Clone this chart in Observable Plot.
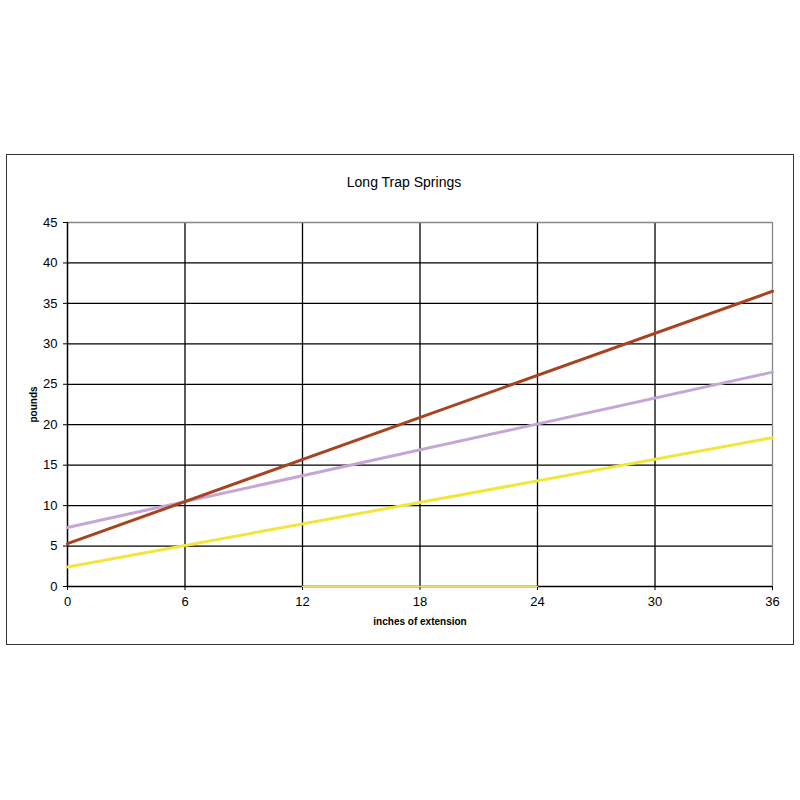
<!DOCTYPE html>
<html><head><meta charset="utf-8">
<script src="https://cdn.jsdelivr.net/npm/d3@7"></script>
<script src="https://cdn.jsdelivr.net/npm/@observablehq/plot@0.6"></script>
<style>
body{margin:0;background:#fff;font-family:"Liberation Sans",Arial,sans-serif}
#wrap{position:relative;width:800px;height:800px;overflow:hidden}
#border{position:absolute;left:6px;top:154px;width:788px;height:491px;border:1.5px solid #333;box-sizing:border-box;pointer-events:none}
#title{position:absolute;top:174px;left:8px;width:792px;text-align:center;font-size:14px;color:#000}
#chart{position:absolute;left:0;top:0}
</style></head>
<body>
<div id="wrap"><div id="chart"></div><div id="border"></div><div id="title">Long Trap Springs</div></div>
<script>
const inches = [0, 36];
const brownPounds = [5.3, 36.5];
const lavenderPounds = [7.3, 26.5];
const yellowPounds = [2.4, 18.4];
const zeroInches = [12, 24];
const zeroPounds = [0, 0];
const xTicks = [0, 6, 12, 18, 24, 30, 36];
const yTicks = [0, 5, 10, 15, 20, 25, 30, 35, 40, 45];

const mk = (xs, ys) => xs.map((x, i) => ({x, y: ys[i]}));

const chart = Plot.plot({
  width: 800, height: 800,
  marginLeft: 67, marginRight: 28, marginTop: 222, marginBottom: 214,
  style: {fontFamily: '"Liberation Sans", Arial, sans-serif', fontSize: "13px", background: "transparent", color: "#000"},
  x: {domain: [0, 36], ticks: xTicks, label: null},
  y: {domain: [0, 45], ticks: yTicks, label: null},
  marks: [
    Plot.ruleY(yTicks.filter(v => v > 0 && v < 45), {stroke: "#000", strokeWidth: 1.3}),
    Plot.ruleX(xTicks.filter(v => v > 0 && v < 36), {stroke: "#000", strokeWidth: 1.3}),
    Plot.ruleY([45], {stroke: "#888", strokeWidth: 1.3}),
    Plot.ruleX([36], {stroke: "#888", strokeWidth: 1.3}),
    Plot.ruleY([0], {stroke: "#000", strokeWidth: 1.5}),
    Plot.ruleX([0], {stroke: "#000", strokeWidth: 1.5}),
    Plot.axisX({ticks: xTicks, tickSize: 4, tickPadding: 6, label: "inches of extension", labelAnchor: "center", labelArrow: "none", labelOffset: 38, fontSize: 13, stroke: "#000"}),
    Plot.axisY({ticks: yTicks, tickSize: 4, tickPadding: 6, label: "pounds", labelAnchor: "center", labelArrow: "none", labelOffset: 38, fontSize: 13, stroke: "#000"}),
    Plot.line(mk(zeroInches, zeroPounds), {x: "x", y: "y", stroke: "#E8E070", strokeWidth: 1.5}),
    Plot.line(mk(inches, yellowPounds), {x: "x", y: "y", stroke: "#F2E63C", strokeWidth: 3}),
    Plot.line(mk(inches, lavenderPounds), {x: "x", y: "y", stroke: "#C6A6D6", strokeWidth: 3}),
    Plot.line(mk(inches, brownPounds), {x: "x", y: "y", stroke: "#A8431F", strokeWidth: 3})
  ]
});
chart.querySelectorAll('[aria-label="x-axis label"] text, [aria-label="y-axis label"] text, [aria-label="x-axis label"], [aria-label="y-axis label"]').forEach(e => { e.style.fontWeight = "bold"; e.style.fontSize = "10px"; });
document.getElementById("chart").appendChild(chart);
</script>
</body></html>
